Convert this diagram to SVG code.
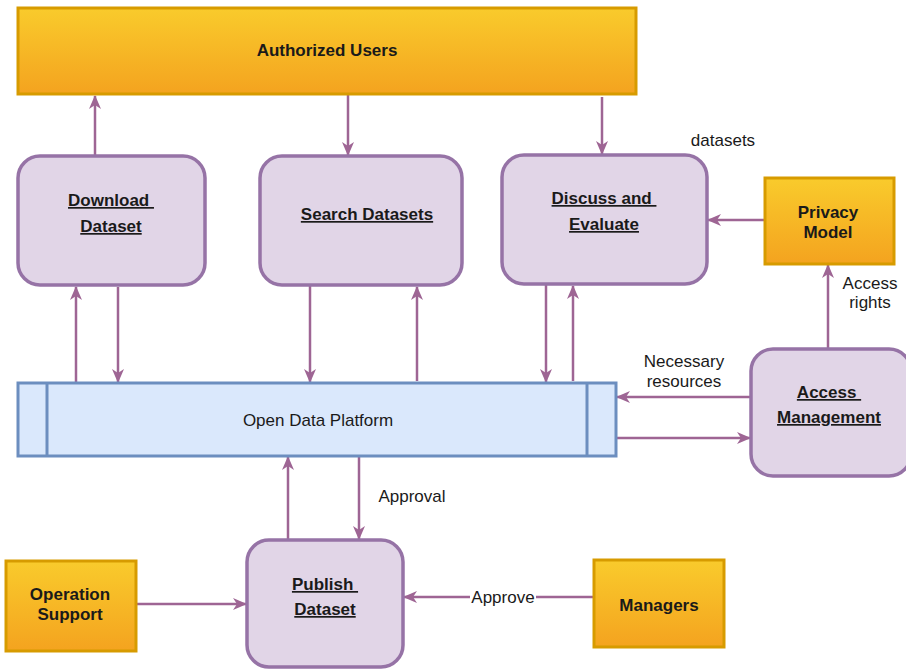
<svg xmlns="http://www.w3.org/2000/svg" width="906" height="671" viewBox="0 0 906 671">
  <defs>
    <linearGradient id="gold" x1="0" y1="0" x2="0" y2="1">
      <stop offset="0" stop-color="#F9CB2C"/>
      <stop offset="1" stop-color="#F4A31F"/>
    </linearGradient>
    <marker id="arrow" viewBox="0 0 14 12" refX="13" refY="6" markerWidth="14" markerHeight="12" markerUnits="userSpaceOnUse" orient="auto">
      <path d="M0,0 L14,6 L0,12 L4,6 z" fill="#9E6594"/>
    </marker>
    <style>
      .actor { fill: url(#gold); stroke: #D79B00; stroke-width: 3; }
      .proc { fill: #E1D5E7; stroke: #9673A6; stroke-width: 3.5; }
      .plat { fill: #DAE8FC; stroke: #6C8EBF; stroke-width: 3; }
      .link { fill: none; stroke: #9E6594; stroke-width: 2.5; marker-end: url(#arrow); }
      .plain { fill: none; stroke: #9E6594; stroke-width: 2.5; }
      text { font-family: "Liberation Sans", Arial, sans-serif; font-size: 17px; fill: #1a1a1a; text-anchor: middle; white-space: pre; }
      .b { font-weight: bold; }
      .u { font-weight: bold; text-decoration: underline; }
    </style>
  </defs>

  <!-- connectors -->
  <g id="connectors">
    <line class="link" x1="95" y1="156" x2="95" y2="96"/>
    <line class="link" x1="348" y1="94" x2="348" y2="155"/>
    <line class="link" x1="602" y1="97" x2="602" y2="154"/>

    <line class="link" x1="76" y1="382" x2="76" y2="287"/>
    <line class="link" x1="118" y1="287" x2="118" y2="382"/>
    <line class="link" x1="310" y1="286" x2="310" y2="382"/>
    <line class="link" x1="417" y1="381" x2="417" y2="287"/>
    <line class="link" x1="546" y1="285" x2="546" y2="382"/>
    <line class="link" x1="573" y1="381" x2="573" y2="286"/>

    <line class="link" x1="765" y1="220" x2="708" y2="220"/>
    <line class="link" x1="828" y1="348" x2="828" y2="265"/>
    <line class="link" x1="750" y1="397" x2="617" y2="397"/>
    <line class="link" x1="617" y1="438" x2="750" y2="438"/>

    <line class="link" x1="288" y1="540" x2="288" y2="457"/>
    <line class="link" x1="359" y1="457" x2="359" y2="539"/>
    <line class="link" x1="136" y1="604" x2="246" y2="604"/>
    <line class="link" x1="594" y1="597" x2="404" y2="597"/>

    <text x="723" y="146">datasets</text>
    <text x="684" y="367">Necessary</text>
    <text x="684" y="387">resources</text>
    <text x="870" y="289">Access</text>
    <text x="870" y="308">rights</text>
    <text x="412" y="502">Approval</text>
    <rect x="470" y="588" width="66" height="18" fill="#FFFFFF"/>
    <text x="503" y="603">Approve</text>
  </g>

  <g id="authorized-users">
    <rect class="actor" x="18" y="8" width="618" height="86"/>
    <text class="b" x="327" y="56">Authorized Users</text>
  </g>

  <g id="download-dataset">
    <rect class="proc" x="18" y="156" width="187" height="129" rx="22"/>
    <text class="u" x="111" y="206">Download </text>
    <text class="u" x="111" y="232">Dataset</text>
  </g>

  <g id="search-datasets">
    <rect class="proc" x="260" y="156" width="202" height="129" rx="22"/>
    <text class="u" x="367" y="220">Search Datasets</text>
  </g>

  <g id="discuss-evaluate">
    <rect class="proc" x="502" y="155" width="205" height="129" rx="22"/>
    <text class="u" x="604" y="204">Discuss and </text>
    <text class="u" x="604" y="230">Evaluate</text>
  </g>

  <g id="privacy-model">
    <rect class="actor" x="765" y="178" width="129" height="86"/>
    <text class="b" x="828" y="218">Privacy</text>
    <text class="b" x="828" y="238">Model</text>
  </g>

  <g id="access-management">
    <rect class="proc" x="751" y="349" width="160" height="127" rx="22"/>
    <text class="u" x="829" y="398">Access </text>
    <text class="u" x="829" y="423">Management</text>
  </g>

  <g id="open-data-platform">
    <rect class="plat" x="18" y="383" width="598" height="73"/>
    <line x1="47" y1="383" x2="47" y2="456" stroke="#6C8EBF" stroke-width="3"/>
    <line x1="587" y1="383" x2="587" y2="456" stroke="#6C8EBF" stroke-width="3"/>
    <text x="318" y="426">Open Data Platform</text>
  </g>

  <g id="publish-dataset">
    <rect class="proc" x="247" y="540" width="156" height="127" rx="22"/>
    <text class="u" x="325" y="590">Publish </text>
    <text class="u" x="325" y="615">Dataset</text>
  </g>

  <g id="operation-support">
    <rect class="actor" x="6" y="561" width="130" height="90"/>
    <text class="b" x="70" y="600">Operation</text>
    <text class="b" x="70" y="620">Support</text>
  </g>

  <g id="managers">
    <rect class="actor" x="594" y="560" width="130" height="87"/>
    <text class="b" x="659" y="611">Managers</text>
  </g>
</svg>
